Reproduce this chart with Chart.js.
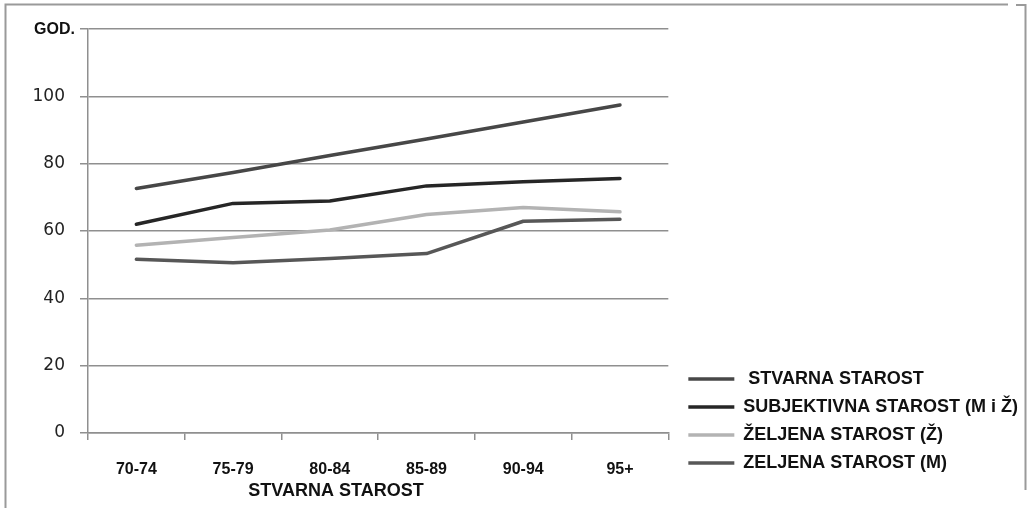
<!DOCTYPE html>
<html>
<head>
<meta charset="utf-8">
<script src="https://cdn.jsdelivr.net/npm/chart.js@4.4.1/dist/chart.umd.min.js"></script>
<style>
  html, body { margin: 0; padding: 0; background: #ffffff; }
  #wrap { position: relative; width: 1028px; height: 508px; }
</style>
</head>
<body>
<div id="wrap"><canvas id="c" width="1028" height="508"></canvas></div>
<script>
// Age groups on the x axis
const categories = ['70-74', '75-79', '80-84', '85-89', '90-94', '95+'];

// Mean ages (years) per group
const stvarnaStarost = [72.6, 77.4, 82.4, 87.3, 92.4, 97.4];
const subjektivnaStarost = [62.0, 68.2, 68.9, 73.4, 74.6, 75.6];
const zeljenaStarostZ = [55.8, 58.1, 60.3, 64.9, 67.0, 65.7];
const zeljenaStarostM = [51.6, 50.6, 51.8, 53.3, 62.9, 63.5];

// Series names
const seriesNames = [' STVARNA STAROST', 'SUBJEKTIVNA STAROST (M i Ž)', 'ŽELJENA STAROST (Ž)', 'ZELJENA STAROST (M)'];

// Axis texts
const yUnitLabel = 'GOD.';
const xAxisTitle = 'STVARNA STAROST';
const yMin = 0, yMax = 120, yStep = 20;

const boldFamily = "'Liberation Sans', Arial, sans-serif";
const gridColor = '#8f8f8f';

function line(label, data, color) {
  return {
    label, data,
    borderColor: color,
    backgroundColor: color,
    borderWidth: 3.5,
    borderCapStyle: 'round',
    borderJoinStyle: 'round',
    pointRadius: 0,
    pointHoverRadius: 0,
    tension: 0
  };
}

// Frame, unit label and axis title drawn on top of the chart
const decorations = {
  id: 'decorations',
  beforeDraw(chart) {
    const ctx = chart.ctx;
    ctx.save();
    ctx.fillStyle = '#ffffff';
    ctx.fillRect(0, 0, chart.width, chart.height);
    ctx.restore();
  },
  afterDraw(chart) {
    const ctx = chart.ctx;
    const y = chart.scales.y;
    ctx.save();
    // outer frame
    ctx.strokeStyle = '#9a9a9a';
    ctx.lineWidth = 2;
    ctx.beginPath();
    ctx.moveTo(5.5, 508);
    ctx.lineTo(5.5, 4.5);
    ctx.lineTo(1008, 4.5);
    ctx.moveTo(1016, 5);
    ctx.lineTo(1025.5, 5);
    ctx.lineTo(1025.5, 490);
    ctx.stroke();

    // unit label in place of the top tick
    ctx.fillStyle = '#111111';
    ctx.font = 'bold 16px ' + boldFamily;
    ctx.textAlign = 'right';
    ctx.textBaseline = 'middle';
    ctx.fillText(yUnitLabel, y.right - 13, y.getPixelForValue(yMax) + 1);

    // x axis title
    ctx.font = 'bold 18px ' + boldFamily;
    ctx.textAlign = 'center';
    ctx.textBaseline = 'middle';
    ctx.fillText(xAxisTitle, 336, 491);
    ctx.restore();
  }
};

new Chart(document.getElementById('c'), {
  type: 'line',
  data: {
    labels: categories,
    datasets: [
      line(seriesNames[0], stvarnaStarost, '#474747'),
      line(seriesNames[1], subjektivnaStarost, '#262626'),
      line(seriesNames[2], zeljenaStarostZ, '#b3b3b3'),
      line(seriesNames[3], zeljenaStarostM, '#575757')
    ]
  },
  options: {
    responsive: false,
    animation: false,
    events: [],
    layout: { padding: { top: 29, left: 0, right: 0, bottom: 26 } },
    scales: {
      x: {
        type: 'category',
        offset: true,
        grid: {
          offset: true,
          drawOnChartArea: false,
          drawTicks: true,
          tickLength: 7,
          color: gridColor,
          lineWidth: 1.5
        },
        border: { display: true, color: gridColor, width: 1.5 },
        ticks: {
          color: '#111111',
          padding: 20,
          maxRotation: 0,
          font: { family: boldFamily, size: 16, weight: 'bold' }
        },
        afterFit(s) { s.height = 49; }
      },
      y: {
        min: yMin,
        max: yMax,
        position: 'left',
        grid: {
          color: gridColor,
          lineWidth: 1.5,
          drawTicks: true,
          tickLength: 8
        },
        border: { display: true, color: gridColor, width: 1.5 },
        ticks: {
          stepSize: yStep,
          padding: 15,
          color: '#222222',
          font: { family: "'DejaVu Sans', sans-serif", size: 17 },
          callback: (v) => (v === yMax ? '' : v)
        },
        afterFit(s) { s.width = 88; }
      },
      gap: {
        type: 'linear',
        position: 'right',
        display: true,
        grid: { display: false, drawTicks: false },
        border: { display: false },
        ticks: { display: false },
        afterFit(s) { s.width = 10; }
      }
    },
    plugins: {
      title: { display: false },
      tooltip: { enabled: false },
      legend: {
        display: true,
        position: 'right',
        align: 'end',
        maxWidth: 350,
        labels: {
          usePointStyle: true,
          pointStyle: 'line',
          pointStyleWidth: 46,
          boxHeight: 4,
          padding: 10,
          color: '#111111',
          font: { family: boldFamily, size: 18, weight: 'bold' }
        }
      }
    }
  },
  plugins: [decorations]
});
</script>
</body>
</html>
